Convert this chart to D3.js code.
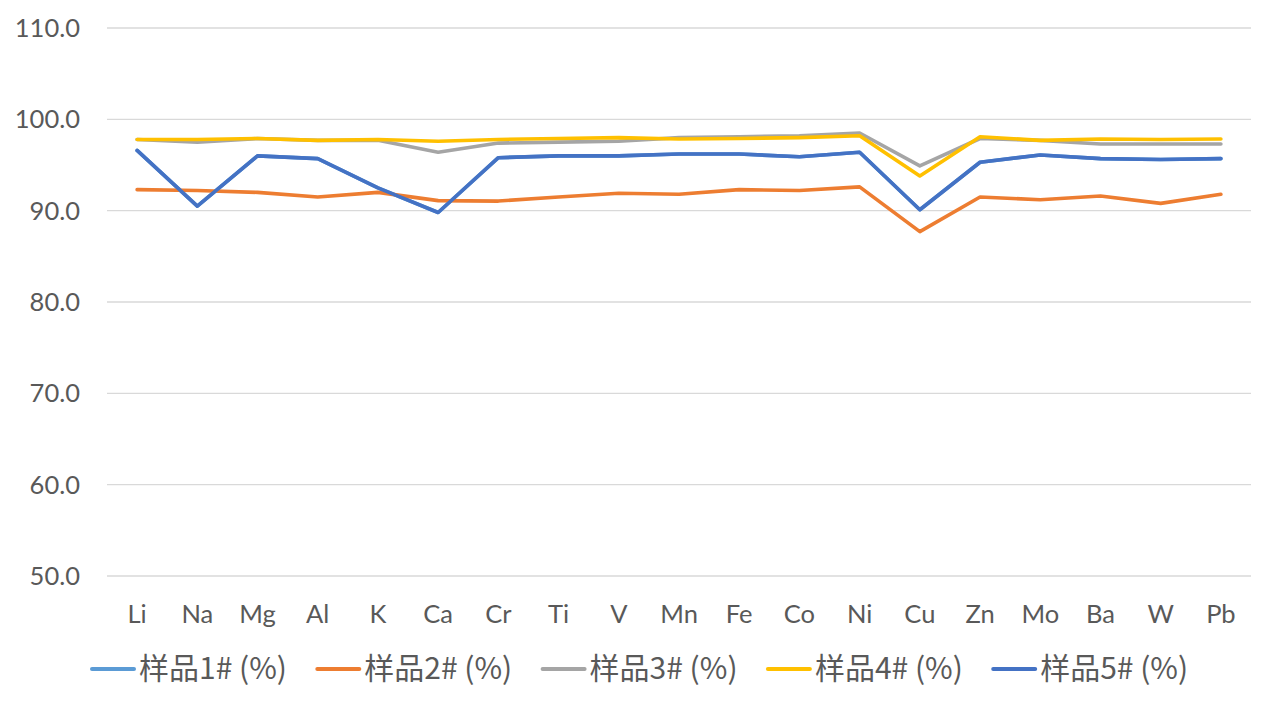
<!DOCTYPE html>
<html><head><meta charset="utf-8">
<script src="https://cdn.jsdelivr.net/npm/d3@7"></script>
<style>body{margin:0;background:#fff;} svg{display:block;}</style>
</head><body>
<svg id="chart" width="1276" height="709"></svg>
<script>
const categories = ["Li","Na","Mg","Al","K","Ca","Cr","Ti","V","Mn","Fe","Co","Ni","Cu","Zn","Mo","Ba","W","Pb"];
const seriesNames = ["样品1# (%)","样品2# (%)","样品3# (%)","样品4# (%)","样品5# (%)"];
const s1 = [96.6,90.5,96.0,95.7,92.5,89.8,95.8,96.0,96.0,96.2,96.2,95.9,96.4,90.1,95.3,96.1,95.7,95.6,95.7];
const s2 = [92.3,92.2,92.0,91.5,92.0,91.1,91.05,91.5,91.9,91.8,92.3,92.2,92.6,87.7,91.5,91.2,91.6,90.8,91.8];
const s3 = [97.8,97.5,97.9,97.7,97.7,96.4,97.4,97.5,97.6,98.0,98.1,98.2,98.5,94.9,97.9,97.7,97.3,97.3,97.3];
const s4 = [97.8,97.8,97.9,97.7,97.8,97.6,97.8,97.9,98.0,97.85,97.9,98.0,98.2,93.8,98.1,97.7,97.85,97.8,97.85];
const s5 = [96.6,90.5,96.0,95.7,92.5,89.8,95.8,96.0,96.0,96.2,96.2,95.9,96.4,90.1,95.3,96.1,95.7,95.6,95.7];
const yTicks = [50,60,70,80,90,100,110];
const colors = ["#5B9BD5","#ED7D31","#A5A5A5","#FFC000","#4472C4"];
const allSeries = [s1,s2,s3,s4,s5];

const svg = d3.select("#chart");
const pLeft = 107, pRight = 1251, pTop = 28, pBottom = 576;
const x = d3.scalePoint().domain(categories).range([pLeft, pRight]).padding(0.5);
const y = d3.scaleLinear().domain([50,110]).range([pBottom, pTop]);

// gridlines
svg.append("g").selectAll("line").data(yTicks).join("line")
  .attr("x1", pLeft).attr("x2", pRight)
  .attr("y1", d=>y(d)).attr("y2", d=>y(d))
  .attr("stroke","#D9D9D9").attr("stroke-width",1.3);

// y labels
svg.append("g").selectAll("text").data(yTicks).join("text")
  .attr("x", 80).attr("y", d=>y(d)).attr("dy","0.35em")
  .attr("text-anchor","end")
  .style("font-family","Lato, 'Liberation Sans', sans-serif")
  .style("font-size","25.5px").attr("fill","#595959")
  .text(d=>d.toFixed(1));

// x labels
svg.append("g").selectAll("text").data(categories).join("text")
  .attr("x", d=>x(d)).attr("y", 614).attr("dy","0.35em")
  .attr("text-anchor","middle")
  .style("font-family","Lato, 'Liberation Sans', sans-serif")
  .style("font-size","25.5px").attr("fill","#595959")
  .text(d=>d);

// lines
const line = d3.line().x((d,i)=>x(categories[i])).y(d=>y(d));
allSeries.forEach((s,i)=>{
  svg.append("path").datum(s)
    .attr("d", line).attr("fill","none")
    .attr("stroke", colors[i]).attr("stroke-width",3.6)
    .attr("stroke-linejoin","round").attr("stroke-linecap","round");
});

// legend
const lg = svg.append("g");
seriesNames.forEach((name,i)=>{
  const lx = 92 + i*225.3;
  lg.append("line").attr("x1",lx).attr("x2",lx+42).attr("y1",669).attr("y2",669)
    .attr("stroke",colors[i]).attr("stroke-width",4).attr("stroke-linecap","round");
  lg.append("text").attr("x", lx+47).attr("y",668).attr("dy","0.35em")
    .style("font-family","'Noto Sans CJK SC', sans-serif")
    .style("font-size","30px").attr("fill","#595959")
    .text(name);
});
</script>
</body></html>
